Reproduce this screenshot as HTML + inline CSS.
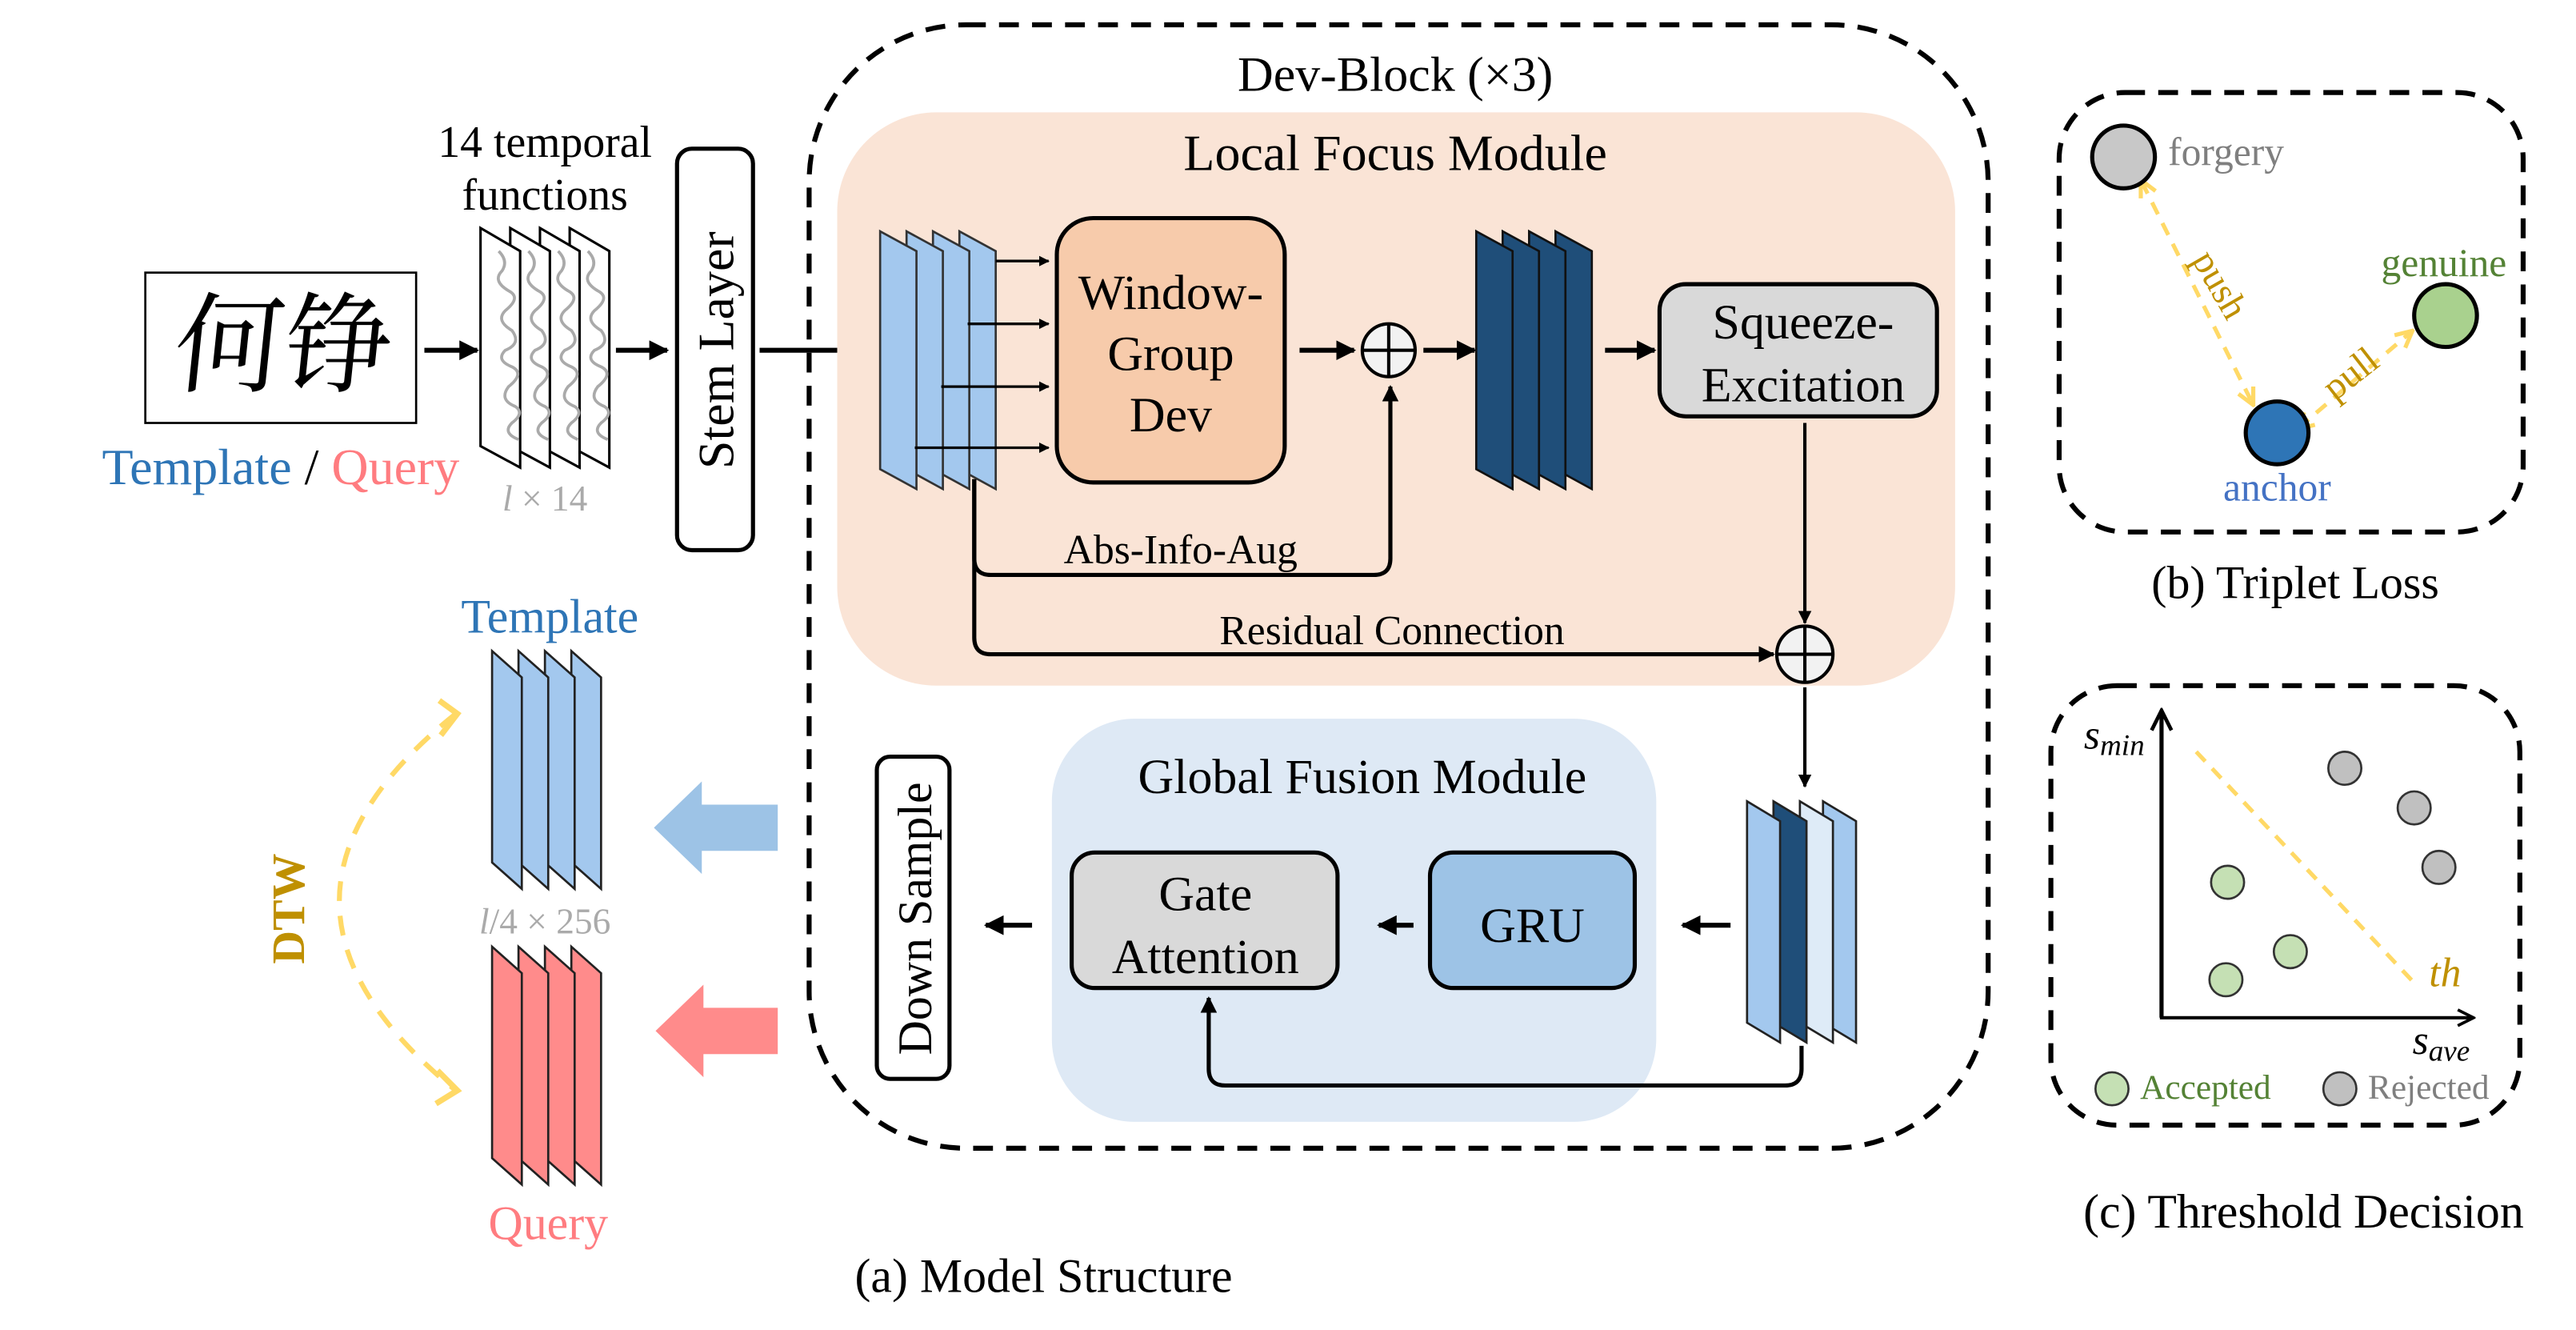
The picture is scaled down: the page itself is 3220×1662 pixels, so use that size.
<!DOCTYPE html>
<html><head><meta charset="utf-8"><style>
html,body{margin:0;padding:0;background:#fff;}
svg{display:block;}
text{font-family:"Liberation Serif","Noto Serif CJK SC",serif;}
</style></head><body>
<svg width="3220" height="1662" viewBox="0 0 1560 805" preserveAspectRatio="none" xmlns="http://www.w3.org/2000/svg">
<defs>
<marker id="ah" viewBox="0 0 10 10" refX="9" refY="5" markerWidth="4" markerHeight="4" orient="auto-start-reverse"><path d="M0,0 L10,5 L0,10 z" fill="#000"/></marker>
<marker id="ay" viewBox="0 0 10 10" refX="8" refY="5" markerWidth="5" markerHeight="5" orient="auto-start-reverse"><path d="M1,1 L9,5 L1,9" fill="none" stroke="#ffd966" stroke-width="2"/></marker>
<marker id="ax" viewBox="0 0 10 10" refX="9" refY="5" markerWidth="6" markerHeight="6" orient="auto"><path d="M1,1 L9,5 L1,9" fill="none" stroke="#000" stroke-width="1.5"/></marker>
<g id="wave"><path d="M8,22 q6,6 2,12 q-6,6 4,12 q8,4 -2,12 q-6,6 4,12 q6,8 -4,12 q-6,6 4,10 q8,4 -2,12 q-6,8 4,12 q6,4 -2,10 q-6,6 4,10" fill="none" stroke="#aaa" stroke-width="1.8"/></g>
</defs>

<!-- left input -->
<rect x="88" y="165" width="164" height="91" fill="#fff" stroke="#000" stroke-width="1.3"/>
<text x="170" y="232" font-size="66" text-anchor="middle" font-family="'Noto Sans CJK SC',sans-serif" font-weight="normal" transform="skewX(-6) translate(24,0)">何铮</text>
<text x="170" y="293" font-size="31" text-anchor="middle"><tspan fill="#2e75b6">Template</tspan><tspan fill="#000"> / </tspan><tspan fill="#ff7c80">Query</tspan></text>
<line x1="257" y1="212" x2="289" y2="212" stroke="#000" stroke-width="3" marker-end="url(#ah)"/>
<text x="330" y="95" font-size="27" text-anchor="middle">14 temporal</text>
<text x="330" y="127" font-size="27" text-anchor="middle">functions</text>
<g stroke="#000" stroke-width="1.5" fill="#fff">
<polygon points="345,138 369,152 369,283 345,270"/><use href="#wave" x="348" y="130"/>
<polygon points="327,138 351,152 351,283 327,270"/><use href="#wave" x="330" y="130"/>
<polygon points="309,138 333,152 333,283 309,270"/><use href="#wave" x="312" y="130"/>
<polygon points="291,138 315,152 315,283 291,270"/><use href="#wave" x="294" y="130"/>
</g>
<text x="330" y="309" font-size="22" text-anchor="middle" fill="#aaa"><tspan font-style="italic">l</tspan> × 14</text>
<line x1="373" y1="212" x2="404" y2="212" stroke="#000" stroke-width="3" marker-end="url(#ah)"/>
<rect x="410" y="90" width="46" height="243" rx="9" fill="#fff" stroke="#000" stroke-width="2.5"/>
<text transform="translate(444,212) rotate(-90)" font-size="31" text-anchor="middle">Stem Layer</text>
<line x1="460" y1="212" x2="527" y2="212" stroke="#000" stroke-width="3" marker-end="url(#ah)"/>

<!-- Dev block -->
<rect x="490" y="15" width="714" height="680" rx="95" fill="none" stroke="#000" stroke-width="3" stroke-dasharray="12,8"/>
<text x="845" y="55" font-size="30" text-anchor="middle">Dev-Block (×3)</text>
<rect x="507" y="68" width="677" height="347" rx="60" fill="#fae4d6"/>
<text x="845" y="103" font-size="31" text-anchor="middle">Local Focus Module</text>
<g stroke="#333" stroke-width="1.3" fill="#a3c8ee">
<polygon points="581,140 603,152 603,296 581,284"/>
<polygon points="565,140 587,152 587,296 565,284"/>
<polygon points="549,140 571,152 571,296 549,284"/>
<polygon points="533,140 555,152 555,296 533,284"/>
</g>
<g stroke="#000" stroke-width="1.6" marker-end="url(#ah)">
<line x1="603" y1="158" x2="635" y2="158"/>
<line x1="586" y1="196" x2="635" y2="196"/>
<line x1="570" y1="234" x2="635" y2="234"/>
<line x1="554" y1="271" x2="635" y2="271"/>
</g>
<rect x="640" y="132" width="138" height="160" rx="22" fill="#f7cbab" stroke="#000" stroke-width="2.5"/>
<text x="709" y="187" font-size="30" text-anchor="middle">Window-</text>
<text x="709" y="224" font-size="30" text-anchor="middle">Group</text>
<text x="709" y="261" font-size="30" text-anchor="middle">Dev</text>
<line x1="787" y1="212" x2="820" y2="212" stroke="#000" stroke-width="3" marker-end="url(#ah)"/>
<circle cx="841" cy="212" r="16" fill="#f2f2f2" stroke="#000" stroke-width="2"/>
<path d="M825,212 H857 M841,196 V228" stroke="#000" stroke-width="2"/>
<line x1="862" y1="212" x2="893" y2="212" stroke="#000" stroke-width="3" marker-end="url(#ah)"/>
<g stroke="#111" stroke-width="1.3" fill="#1f4e79">
<polygon points="942,140 964,152 964,296 942,284"/>
<polygon points="926,140 948,152 948,296 926,284"/>
<polygon points="910,140 932,152 932,296 910,284"/>
<polygon points="894,140 916,152 916,296 894,284"/>
</g>
<line x1="972" y1="212" x2="1002" y2="212" stroke="#000" stroke-width="3" marker-end="url(#ah)"/>
<rect x="1005" y="172" width="168" height="80" rx="16" fill="#d9d9d9" stroke="#000" stroke-width="2.5"/>
<text x="1092" y="205" font-size="30" text-anchor="middle">Squeeze-</text>
<text x="1092" y="243" font-size="30" text-anchor="middle">Excitation</text>
<line x1="1093" y1="256" x2="1093" y2="377" stroke="#000" stroke-width="2" marker-end="url(#ah)"/>
<path d="M590,290 V338 q0,10 10,10 H832 q10,0 10,-10 V234" fill="none" stroke="#000" stroke-width="2.5" marker-end="url(#ah)"/>
<text x="715" y="341" font-size="25" text-anchor="middle">Abs-Info-Aug</text>
<path d="M590,290 V386 q0,10 10,10 H1074" fill="none" stroke="#000" stroke-width="2.5" marker-end="url(#ah)"/>
<text x="843" y="390" font-size="25" text-anchor="middle">Residual Connection</text>
<circle cx="1093" cy="396" r="17" fill="#f2f2f2" stroke="#000" stroke-width="2"/>
<path d="M1076,396 H1110 M1093,379 V413" stroke="#000" stroke-width="2"/>
<line x1="1093" y1="416" x2="1093" y2="476" stroke="#000" stroke-width="2" marker-end="url(#ah)"/>

<rect x="637" y="435" width="366" height="244" rx="50" fill="#dee9f5"/>
<text x="825" y="480" font-size="30" text-anchor="middle">Global Fusion Module</text>
<g stroke="#222" stroke-width="1.3">
<polygon points="1104,485 1124,497 1124,631 1104,619" fill="#a3c8ee"/>
<polygon points="1090,485 1110,497 1110,631 1090,619" fill="#deebf7"/>
<polygon points="1074,485 1094,497 1094,631 1074,619" fill="#1f4e79"/>
<polygon points="1058,485 1078,497 1078,631 1058,619" fill="#a3c8ee"/>
</g>
<line x1="1048" y1="560" x2="1019" y2="560" stroke="#000" stroke-width="3" marker-end="url(#ah)"/>
<rect x="866" y="516" width="124" height="82" rx="14" fill="#9dc3e6" stroke="#000" stroke-width="2.5"/>
<text x="928" y="570" font-size="30" text-anchor="middle">GRU</text>
<line x1="856" y1="560" x2="835" y2="560" stroke="#000" stroke-width="3" marker-end="url(#ah)"/>
<rect x="649" y="516" width="161" height="82" rx="14" fill="#d9d9d9" stroke="#000" stroke-width="2.5"/>
<text x="730" y="551" font-size="30" text-anchor="middle">Gate</text>
<text x="730" y="589" font-size="30" text-anchor="middle">Attention</text>
<path d="M1091,633 V647 q0,10 -10,10 H742 q-10,0 -10,-10 V604" fill="none" stroke="#000" stroke-width="2.5" marker-end="url(#ah)"/>
<line x1="625" y1="560" x2="597" y2="560" stroke="#000" stroke-width="3" marker-end="url(#ah)"/>
<rect x="531" y="458" width="44" height="195" rx="8" fill="#fff" stroke="#000" stroke-width="2.5"/>
<text transform="translate(564,556) rotate(-90)" font-size="29" text-anchor="middle">Down Sample</text>

<!-- lower left outputs -->
<text x="333" y="383" font-size="29" text-anchor="middle" fill="#2e75b6">Template</text>
<g stroke="#222" stroke-width="1.3" fill="#a3c8ee">
<polygon points="346,394 364,410 364,538 346,522"/>
<polygon points="330,394 348,410 348,538 330,522"/>
<polygon points="314,394 332,410 332,538 314,522"/>
<polygon points="298,394 316,410 316,538 298,522"/>
</g>
<text x="330" y="565" font-size="22" text-anchor="middle" fill="#aaa"><tspan font-style="italic">l</tspan>/4 × 256</text>
<g stroke="#222" stroke-width="1.3" fill="#ff8b8b">
<polygon points="346,573 364,589 364,717 346,701"/>
<polygon points="330,573 348,589 348,717 330,701"/>
<polygon points="314,573 332,589 332,717 314,701"/>
<polygon points="298,573 316,589 316,717 298,701"/>
</g>
<text x="332" y="750" font-size="29" text-anchor="middle" fill="#ff7c80">Query</text>
<polygon points="396,501 425,473 425,487 471,487 471,515 425,515 425,529" fill="#9dc3e6"/>
<polygon points="397,624 426,596 426,610 471,610 471,638 426,638 426,652" fill="#ff8b8b"/>
<path d="M276,432 Q135,545 276,660" fill="none" stroke="#ffd966" stroke-width="3" stroke-dasharray="12,9"/>
<path d="M266,424 L277,432 L267,445" fill="none" stroke="#ffd966" stroke-width="3.5"/>
<path d="M265,648 L277,660 L264,668" fill="none" stroke="#ffd966" stroke-width="3.5"/>
<text transform="translate(184,550) rotate(-90)" font-size="28" font-weight="bold" text-anchor="middle" fill="#bf9000">DTW</text>
<text x="632" y="782" font-size="29" text-anchor="middle">(a) Model Structure</text>

<!-- triplet -->
<rect x="1247" y="56" width="281" height="266" rx="40" fill="none" stroke="#000" stroke-width="3" stroke-dasharray="12,8"/>
<line x1="1297" y1="110" x2="1364" y2="244" stroke="#ffd966" stroke-width="2.5" stroke-dasharray="8,6" marker-start="url(#ay)" marker-end="url(#ay)"/>
<line x1="1392" y1="259" x2="1460" y2="201" stroke="#ffd966" stroke-width="2.5" stroke-dasharray="8,6" marker-start="url(#ay)" marker-end="url(#ay)"/>
<circle cx="1286" cy="95" r="19" fill="#c8c8c8" stroke="#000" stroke-width="2.5"/>
<circle cx="1481" cy="191" r="19" fill="#a9d18e" stroke="#000" stroke-width="2.5"/>
<circle cx="1379" cy="262" r="19" fill="#2e75b6" stroke="#000" stroke-width="2.5"/>
<text x="1313" y="100" font-size="24" fill="#7f7f7f">forgery</text>
<text x="1480" y="167" font-size="24" text-anchor="middle" fill="#548235">genuine</text>
<text x="1379" y="303" font-size="24" text-anchor="middle" fill="#4472c4">anchor</text>
<text transform="translate(1338,176) rotate(60)" font-size="23" text-anchor="middle" fill="#bf9000">push</text>
<text transform="translate(1428,232) rotate(-38)" font-size="23" text-anchor="middle" fill="#bf9000">pull</text>
<text x="1390" y="362" font-size="28" text-anchor="middle">(b) Triplet Loss</text>

<!-- threshold -->
<rect x="1242" y="415" width="284" height="266" rx="40" fill="none" stroke="#000" stroke-width="3" stroke-dasharray="12,8"/>
<line x1="1309" y1="616" x2="1309" y2="430" stroke="#000" stroke-width="2.5" marker-end="url(#ax)"/>
<line x1="1308" y1="616" x2="1498" y2="616" stroke="#000" stroke-width="2" marker-end="url(#ax)"/>
<line x1="1330" y1="455" x2="1464" y2="597" stroke="#ffd966" stroke-width="2.5" stroke-dasharray="8,6"/>
<text x="1262" y="453" font-size="25" font-style="italic">s<tspan font-size="18" dy="4">min</tspan></text>
<text x="1461" y="638" font-size="25" font-style="italic">s<tspan font-size="18" dy="4">ave</tspan></text>
<text x="1471" y="597" font-size="25" font-style="italic" fill="#bf9000">th</text>
<g stroke="#333" stroke-width="1.3">
<ellipse cx="1420" cy="465" rx="10" ry="10" fill="#c0c0c0"/>
<ellipse cx="1462" cy="489" rx="10" ry="10" fill="#c0c0c0"/>
<ellipse cx="1477" cy="525" rx="10" ry="10" fill="#c0c0c0"/>
<ellipse cx="1349" cy="534" rx="10" ry="10" fill="#c5e0b4"/>
<ellipse cx="1387" cy="576" rx="10" ry="10" fill="#c5e0b4"/>
<ellipse cx="1348" cy="593" rx="10" ry="10" fill="#c5e0b4"/>
<ellipse cx="1279" cy="659" rx="10" ry="10" fill="#c5e0b4"/>
<ellipse cx="1417" cy="659" rx="10" ry="10" fill="#c0c0c0"/>
</g>
<text x="1296" y="665" font-size="21" fill="#548235">Accepted</text>
<text x="1434" y="665" font-size="21" fill="#7f7f7f">Rejected</text>
<text x="1395" y="743" font-size="29" text-anchor="middle">(c) Threshold Decision</text>
</svg>
</body></html>
